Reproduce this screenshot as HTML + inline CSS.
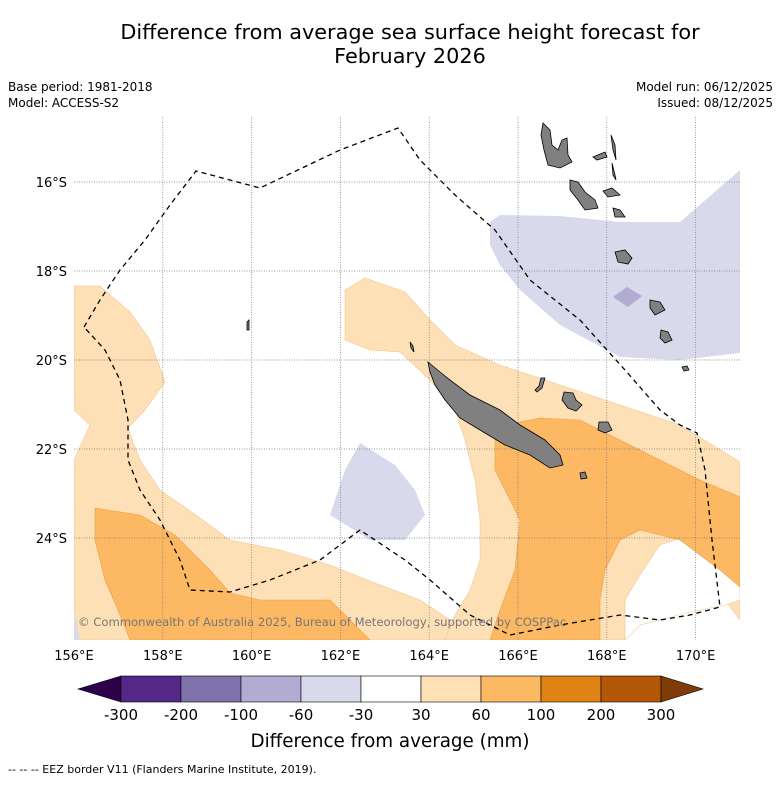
<!DOCTYPE html>
<html><head><meta charset="utf-8">
<style>
body{margin:0;background:#fff;font-family:"Liberation Sans",sans-serif;}
svg text{font-family:"DejaVu Sans","Liberation Sans",sans-serif;}
</style></head>
<body>
<svg id="c" width="781" height="781" viewBox="0 0 781 781" xmlns="http://www.w3.org/2000/svg">
<rect width="781" height="781" fill="#fff"/>
<text x="410" y="39" text-anchor="middle" font-size="20.8">Difference from average sea surface height forecast for</text>
<text x="410" y="63" text-anchor="middle" font-size="20.8">February 2026</text>
<text x="8" y="91" font-size="12">Base period: 1981-2018</text>
<text x="8" y="107" font-size="12">Model: ACCESS-S2</text>
<text x="773" y="91" font-size="12" text-anchor="end">Model run: 06/12/2025</text>
<text x="773" y="107" font-size="12" text-anchor="end">Issued: 08/12/2025</text>
<defs><clipPath id="mapclip"><rect x="74" y="117" width="666" height="523"/></clipPath></defs>
<g clip-path="url(#mapclip)">
<g id="fills" stroke-width="0.6">
<path fill="#fee0b6" stroke="#f0c890" d="M74,286 L100,286 130,312 150,340 165,382 145,410 128,428 140,460 160,490 200,518 230,540 280,550 330,565 380,585 420,600 450,620 460,640 74,640 74,460 90,425 74,410Z"/>
<path fill="#fee0b6" stroke="#f0c890" d="M345,290 L365,278 405,292 430,320 455,345 500,365 560,385 620,405 680,425 740,462 740,620 725,600 660,600 625,600 625,640 445,640 455,615 470,590 480,560 480,520 475,480 465,440 455,410 430,380 400,352 370,350 345,340Z"/>
<path fill="#fff" stroke="#f0c890" d="M625,640 L625,600 640,575 660,545 700,532 740,530 740,600 725,605 690,612 660,620 640,625 625,640Z"/>
<path fill="#fdb863" stroke="#eca04a" d="M495,440 L505,425 540,418 580,420 620,440 660,460 700,480 740,497 740,587 720,570 700,555 680,540 640,530 620,540 605,570 600,600 600,640 490,640 500,610 515,570 520,520 505,490 495,470Z"/>
<path fill="#fdb863" stroke="#eca04a" d="M95,508 L140,515 175,535 210,570 230,593 260,600 330,600 350,620 370,640 130,640 120,615 105,580 95,540Z"/>
<path fill="#d8daeb" d="M490,222 L500,215 560,216 620,222 680,222 740,170 740,353 680,360 620,357 560,325 520,290 500,265 490,245Z"/>
<path fill="#b2abd2" d="M613,297 L627,287 642,296 628,307Z"/>
<path fill="#d8daeb" d="M360,443 L395,465 415,490 425,515 405,540 370,540 330,515 345,470Z"/>
<path fill="#d8daeb" d="M74,610 L80,640 74,640Z"/>
</g>
<g id="grid" stroke="#777" stroke-width="0.7" stroke-dasharray="1,1.5" fill="none"></g>
<g id="land" fill="#808080" stroke="#000" stroke-width="0.8">
<path d="M428,362 L440,372 450,380 470,395 500,410 520,425 545,440 560,455 563,465 550,468 530,455 505,445 480,430 460,418 445,400 435,385 430,372Z"/>
<path d="M543,123 L550,130 552,145 558,150 562,140 567,138 568,155 572,162 560,168 548,165 544,150 541,135Z"/>
<path d="M570,180 L578,182 585,192 595,200 598,208 585,210 578,200 570,190Z"/>
<path d="M611,135 L615,145 616,160 613,150Z"/>
<path d="M593,157 L605,152 607,157 597,160Z"/>
<path d="M612,163 L615,175 616,180 613,175Z"/>
<path d="M603,191 L612,188 620,195 608,197Z"/>
<path d="M613,208 L620,210 625,217 615,217Z"/>
<path d="M615,252 L625,250 632,258 628,264 618,262Z"/>
<path d="M650,300 L660,302 665,310 655,315 650,308Z"/>
<path d="M661,330 L668,332 672,340 665,343 660,338Z"/>
<path d="M682,367 L687,366 689,370 684,371Z"/>
<path d="M537,392 L542,388 545,378 541,378 539,386 535,390Z"/>
<path d="M564,392 L573,393 576,400 582,405 576,411 568,408 562,400Z"/>
<path d="M599,422 L608,422 612,430 605,433 598,430Z"/>
<path d="M580,473 L585,472 587,478 581,479Z"/>
<path d="M247,322 L249,320 249,330 247,330Z"/>
<path d="M410,342 L413,346 414,352 411,348Z"/>
</g>
<path fill="none" stroke="#000" stroke-width="1.3" stroke-dasharray="5,4" d="M84,327 L100,300 120,270 145,240 170,205 196,171 260,188 340,150 398,128 420,160 455,195 495,230 530,280 580,320 625,370 660,410 680,425 697,433 705,470 712,540 720,607 690,615 660,620 620,615 560,625 510,635 470,615 430,580 405,560 360,530 320,560 270,580 230,592 190,590 180,560 160,520 140,490 128,460 128,420 120,380 105,350 84,327"/>
<text x="78" y="626" font-size="11.6" fill="#777">© Commonwealth of Australia 2025, Bureau of Meteorology, supported by COSPPac</text>
</g>
<g id="axes"></g>
<g id="colorbar"></g>
<text x="390" y="747" text-anchor="middle" font-size="18.3">Difference from average (mm)</text>
<text x="8" y="773" font-size="11">--  --  -- EEZ border V11 (Flanders Marine Institute, 2019).</text>
</svg>
<script>
const lonTicks=[156,158,160,162,164,166,168,170];
const latTicks=[16,18,20,22,24];
const cbBounds=[-300,-200,-100,-60,-30,30,60,100,200,300];
const cbColors=["#542788","#8073ac","#b2abd2","#d8daeb","#ffffff","#fee0b6","#fdb863","#e08214","#b35806"];
const cbExtLow="#2d004b", cbExtHigh="#7f3b08";
const NS="http://www.w3.org/2000/svg";
const x0=74,y0=117,pxLon=44.4,pxLat=44.5;
const xs=lon=>x0+(lon-156)*pxLon;
const ys=lat=>182+(lat-16)*pxLat;
function mk(t,a,p){const e=document.createElementNS(NS,t);for(const k in a)e.setAttribute(k,a[k]);p.appendChild(e);return e;}
const grid=document.getElementById('grid'),axes=document.getElementById('axes');
lonTicks.forEach(l=>{const x=xs(l);
 if(l>156){const ln=mk('line',{x1:x,x2:x,y1:117,y2:640},grid);
 
 }
 const t=mk('text',{x:x,y:660,'text-anchor':'middle','font-size':13},axes);t.textContent=l+'°E';
 
 });
latTicks.forEach(l=>{const y=ys(l);
 const ln=mk('line',{x1:74,x2:740,y1:y,y2:y},grid);
 
 
 const t=mk('text',{x:67,y:y+5,'text-anchor':'end','font-size':13},axes);t.textContent=l+'°S';
 
 });
const cb=document.getElementById('colorbar');
const cx0=121,cw=60,cy=676,ch=26;
let e=mk('polygon',{points:`${cx0},${cy} ${cx0},${cy+ch} 78,${cy+ch/2}`,fill:cbExtLow,stroke:'#000','stroke-width':0.6},cb);


cbColors.forEach((c,i)=>{const r=mk('rect',{x:cx0+i*cw,y:cy,width:cw,height:ch,fill:c,stroke:'#000','stroke-width':0.6},cb);
 
 });
const xe=cx0+cbColors.length*cw;
e=mk('polygon',{points:`${xe},${cy} ${xe},${cy+ch} ${xe+42},${cy+ch/2}`,fill:cbExtHigh,stroke:'#000','stroke-width':0.6},cb);


cbBounds.forEach((b,i)=>{const t=mk('text',{x:cx0+i*cw,y:720,'text-anchor':'middle','font-size':15},cb);t.textContent=b;
 
 });
</script>
</body></html>
